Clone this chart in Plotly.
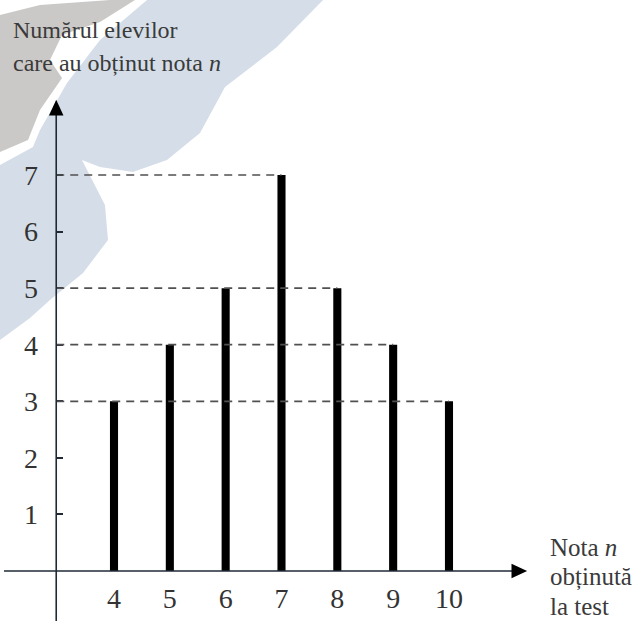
import plotly.graph_objects as go

# ---- data ----
grades = [4, 5, 6, 7, 8, 9, 10]
counts = [3, 4, 5, 7, 5, 4, 3]
y_ticks = [1, 2, 3, 4, 5, 6, 7]
x_ticks = [4, 5, 6, 7, 8, 9, 10]
y_title = ["Numărul elevilor", "care au obținut nota <i>n</i>"]
x_title = ["Nota <i>n</i>", "obținută", "la test"]

W, H = 644, 621
X_RANGE = [1.958, 13.493]
Y_RANGE = [-0.884, 10.094]
Y_AXIS_AT = 2.965      # x value where the vertical axis is drawn
X_AXIS_START = 2.03
X_AXIS_TIP = 11.40
Y_AXIS_TIP = 8.33
AX_COLOR = "#1f2a36"
SERIF = "'Liberation Serif', 'DejaVu Serif', 'Times New Roman', serif"

def px_to_paper(pts):
    return [(x / W, 1 - y / H) for x, y in pts]

def path(pts):
    p = px_to_paper(pts)
    return "M " + " L ".join(f"{x:.4f},{y:.4f}" for x, y in p) + " Z"

# decorative watermark (background)
wm_blue = [(147, 0), (323, 0), (277, 47), (225, 87), (200, 133), (167, 160),
           (133, 172), (100, 167), (82, 160), (105, 205), (108, 240), (83, 273),
           (50, 300), (30, 318), (0, 340), (0, 165), (33, 147), (40, 130),
           (67, 83), (100, 40)]
wm_gray = [(0, 15), (40, 5), (110, 0), (135, 0), (100, 22), (62, 35), (50, 60),
           (62, 78), (40, 110), (28, 140), (0, 152)]

fig = go.Figure()
fig.add_trace(go.Bar(x=grades, y=counts, width=0.145,
                     marker=dict(color="black", line=dict(width=0)),
                     hoverinfo="skip"))

shapes = []
shapes.append(dict(type="path", xref="paper", yref="paper", path=path(wm_blue),
                   fillcolor="#d5dee8", line=dict(width=0), layer="below"))
shapes.append(dict(type="path", xref="paper", yref="paper", path=path(wm_gray),
                   fillcolor="#cbc9c7", line=dict(width=0), layer="below"))

# dashed guide lines: for each distinct value, to the furthest bar with that value
for v in sorted(set(counts)):
    xmax = max(g for g, c in zip(grades, counts) if c == v)
    shapes.append(dict(type="line", x0=Y_AXIS_AT, x1=xmax, y0=v, y1=v,
                       line=dict(color="#505050", width=1.7, dash="8px,6px")))

# axes
shapes.append(dict(type="line", x0=X_AXIS_START, x1=X_AXIS_TIP - 0.2, y0=0, y1=0,
                   line=dict(color=AX_COLOR, width=1.6)))
shapes.append(dict(type="line", x0=Y_AXIS_AT, x1=Y_AXIS_AT, y0=Y_RANGE[0], y1=Y_AXIS_TIP - 0.2,
                   line=dict(color=AX_COLOR, width=1.6)))
# arrow heads
shapes.append(dict(type="path",
                   path=f"M {X_AXIS_TIP},0 L {X_AXIS_TIP-0.28},0.13 L {X_AXIS_TIP-0.28},-0.13 Z",
                   fillcolor="black", line=dict(width=0)))
shapes.append(dict(type="path",
                   path=f"M {Y_AXIS_AT},{Y_AXIS_TIP} L {Y_AXIS_AT-0.13},{Y_AXIS_TIP-0.28} "
                        f"L {Y_AXIS_AT+0.13},{Y_AXIS_TIP-0.28} Z",
                   fillcolor="black", line=dict(width=0)))

annotations = []
for i, t in enumerate(y_title):
    annotations.append(dict(text=t, xref="paper", yref="paper", x=11 / W, y=1 - (30 + 33 * i) / H,
                            xanchor="left", yanchor="middle", showarrow=False,
                            font=dict(family=SERIF, size=24, color="#3a3a3a")))
for i, t in enumerate(x_title):
    annotations.append(dict(text=t, xref="paper", yref="paper", x=548 / W, y=1 - (547 + 29.5 * i) / H,
                            xanchor="left", yanchor="middle", showarrow=False,
                            font=dict(family=SERIF, size=25, color="#3a3a3a")))

tickfont = dict(family=SERIF, size=28, color="#333333")
fig.update_layout(
    width=W, height=H, template="none",
    margin=dict(l=0, r=0, t=0, b=0),
    paper_bgcolor="white", plot_bgcolor="rgba(0,0,0,0)",
    showlegend=False, shapes=shapes, annotations=annotations,
    xaxis=dict(range=X_RANGE, showgrid=False, zeroline=False, showline=False,
               tickvals=x_ticks, ticktext=[str(v) for v in x_ticks], ticks="",
               anchor="free", position=50 / H, tickfont=tickfont, automargin=False,
               ticklabelstandoff=8),
    yaxis=dict(range=Y_RANGE, showgrid=False, zeroline=False, showline=False,
               tickvals=y_ticks, ticktext=[str(v) for v in y_ticks], ticks="inside",
               ticklen=6, tickwidth=1.5, tickcolor=AX_COLOR,
               anchor="free", position=56 / W, tickfont=tickfont, automargin=False,
               ticklabelstandoff=18),
)
fig.write_html("out.html", config={"displayModeBar": False},
               post_script="document.body.style.margin='0';document.body.style.padding='0';")
